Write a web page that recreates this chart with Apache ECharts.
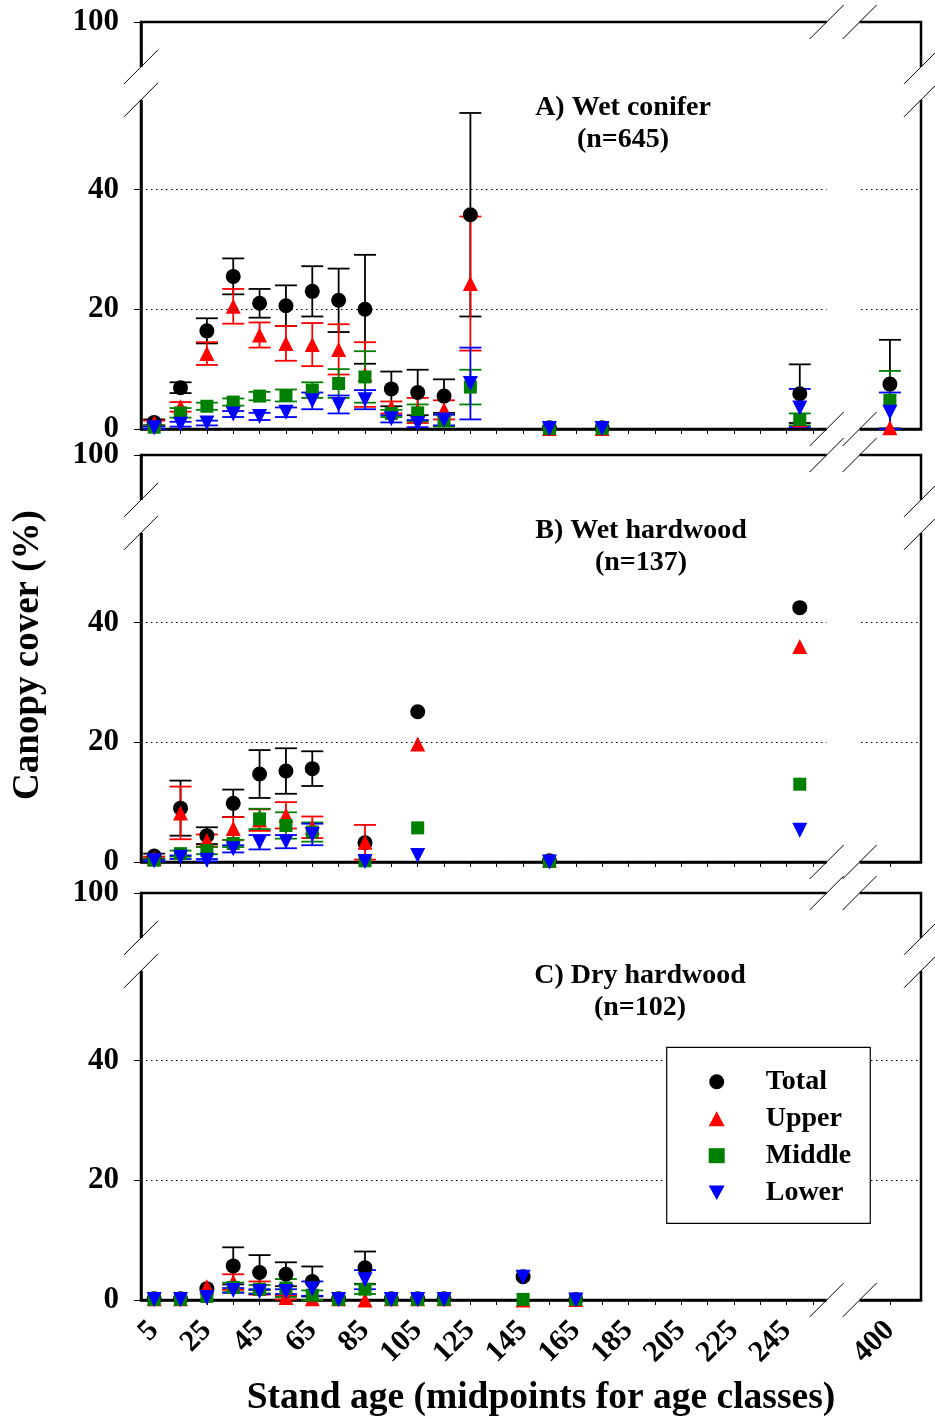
<!DOCTYPE html>
<html><head><meta charset="utf-8">
<script src="https://cdn.jsdelivr.net/npm/echarts@6/dist/echarts.min.js"></script>
<style>html,body{margin:0;padding:0;background:#fff}#c{width:935px;height:1418px}</style>
</head><body><div id="c"></div>
<script>
// ---------- data ----------
const xTickMarks = [5,15,25,35,45,55,65,75,85,95,105,115,125,135,145,155,165,175,185,195,205,215,225,235,245,255,400];
const xTickLabels = [5,25,45,65,85,105,125,145,165,185,205,225,245,400];
const yTickLabels = [0,20,40,100];

const A_ages      = [5,15,25,35,45,55,65,75,85,95,105,115,125,155,175,250,400];
const A_total     = [1.1,6.9,16.4,25.5,21.0,20.6,23.0,21.5,20.0,6.7,6.1,5.5,35.8,0.2,0.2,5.9,7.5];
const A_total_se  = [0.5,0.9,2.1,3.0,2.4,3.4,4.2,5.3,9.1,2.9,3.8,2.8,17.0,0,0,4.9,7.4];
const A_upper     = [1.0,3.7,12.6,20.5,15.7,14.3,14.1,13.3,9.1,3.6,3.1,3.2,24.3,0.1,0.1,1.5,0.2];
const A_upper_se  = [0.4,0.8,1.9,2.9,2.1,2.9,3.6,4.2,5.4,1.0,2.1,1.6,11.2,0,0,0,0];
const A_middle    = [0.3,2.7,3.8,4.5,5.5,5.6,6.5,7.6,8.7,2.6,2.7,1.4,7.0,0.1,0.1,1.6,4.8];
const A_middle_se = [0.3,0.8,0.6,0.6,0.7,1.0,1.3,2.4,4.3,0.6,1.4,1.0,2.9,0,0,1.0,4.9];
const A_lower     = [0.2,0.8,1.0,2.5,2.1,2.8,4.7,4.1,4.9,1.7,0.9,1.5,7.6,0.1,0.1,3.5,2.8];
const A_lower_se  = [0.2,0.4,0.4,0.5,0.6,0.8,1.4,1.5,1.6,0.6,0.6,0.9,6.0,0,0,3.2,3.3];

const B_ages      = [5,15,25,35,45,55,65,85,105,155,250];
const B_total     = [1.0,9.0,4.4,9.8,14.7,15.2,15.6,3.2,25.1,0.2,42.5];
const B_total_se  = [0.4,4.6,1.4,2.3,4.0,3.8,2.9,0,0,0,0];
const B_upper     = [0.6,8.2,3.6,5.6,7.0,7.8,5.8,3.3,19.7,0.3,36.0];
const B_upper_se  = [0.3,4.4,1.0,1.9,1.8,2.2,1.8,2.9,0,0,0];
const B_middle    = [0.3,1.4,1.9,3.1,7.2,6.1,5.0,0.2,5.7,0.1,13.0];
const B_middle_se = [0.2,0.5,0.6,0.6,1.7,2.2,1.6,0,0,0,0];
const B_lower     = [0.2,0.8,0.3,2.2,3.3,3.4,4.6,0.1,1.1,0.0,5.3];
const B_lower_se  = [0.1,0.3,0.2,0.6,1.2,1.1,1.8,0,0,0,0];

const C_ages      = [5,15,25,35,45,55,65,75,85,95,105,115,145,165];
const C_total     = [0.2,0.2,1.9,5.7,4.6,4.3,3.1,0.2,5.4,0.2,0.2,0.2,3.9,0.1];
const C_total_se  = [0,0,0,3.1,2.9,2.0,2.5,0,2.7,0,0,0,0,0];
const C_upper     = [0.2,0.2,2.2,3.0,2.0,0.4,0.2,0.2,0.0,0.2,0.2,0.2,0.0,0.1];
const C_upper_se  = [0,0,0,1.3,1.1,0.3,0,0,0,0,0,0,0,0];
const C_middle    = [0.1,0.1,0.6,2.1,1.8,2.0,0.8,0.1,1.8,0.1,0.1,0.1,0.1,0.1];
const C_middle_se = [0,0,0,0.8,0.7,1.5,0.8,0,0.8,0,0,0,0,0];
const C_lower     = [0.1,0.1,0.4,1.6,1.4,1.4,1.9,0.1,3.4,0.1,0.1,0.1,3.8,0.0];
const C_lower_se  = [0,0,0,0.4,0.4,0.4,1.2,0,1.6,0,0,0,0,0];

const panelTitles = [['A) Wet conifer','(n=645)'],['B) Wet hardwood','(n=137)'],['C) Dry hardwood','(n=102)']];
const layerNames = ['Total','Upper','Middle','Lower'];

// ---------- broken-axis mapping ----------
const X_MAX = 296, X_BREAK_400 = 284.2;          // display position of age 400 after the break
const Y_MAX = 68;                                 // display position of 100 after the break
function xd(a){ return a > 300 ? X_BREAK_400 + (a - 400) : a; }
function yd(v){ return v > 60 ? Y_MAX + (v - 100) : v; }

const FONT = "'Liberation Serif','Times New Roman',serif";
const COLORS = ['#000000','#ff0000','#008000','#0000ff'];
const SYMBOLS = ['circle','triangle','rect','triangle'];
const LEGEND_ICONS = ['circle','triangle','rect','path://M0,0L2,0L1,1.8Z'];
const SIZES = [15,15,13,15];
const ROT = [0,0,0,180];

const panels = [
  {ages:A_ages, vals:[A_total,A_upper,A_middle,A_lower], se:[A_total_se,A_upper_se,A_middle_se,A_lower_se]},
  {ages:B_ages, vals:[B_total,B_upper,B_middle,B_lower], se:[B_total_se,B_upper_se,B_middle_se,B_lower_se]},
  {ages:C_ages, vals:[C_total,C_upper,C_middle,C_lower], se:[C_total_se,C_upper_se,C_middle_se,C_lower_se]}
];
const tops = [22,455,893], H = 407;

function errRender(params, api){
  const x = api.value(0), y = api.value(1), e = api.value(2);
  if (!e) return null;
  const t = api.coord([x, y + e]), b = api.coord([x, Math.max(0, y - e)]);
  const hw = 11, st = {stroke: api.visual('color'), lineWidth: 1.8};
  return {type:'group', children:[
    {type:'line', shape:{x1:t[0],y1:t[1],x2:b[0],y2:b[1]}, style:st},
    {type:'line', shape:{x1:t[0]-hw,y1:t[1],x2:t[0]+hw,y2:t[1]}, style:st},
    {type:'line', shape:{x1:b[0]-hw,y1:b[1],x2:b[0]+hw,y2:b[1]}, style:st}
  ]};
}

const grid = [], xAxis = [], yAxis = [], series = [];
panels.forEach((p, i) => {
  grid.push({left:141, width:780, top:tops[i], height:H, show:true, borderColor:'#000', borderWidth:2.5, backgroundColor:'transparent'});
  xAxis.push({type:'value', gridIndex:i, min:0, max:X_MAX,
    axisLine:{show:true, onZero:false, lineStyle:{color:'#000', width:2.5}},
    axisTick:{show:true, inside:false, length:5, lineStyle:{color:'#000', width:1}, customValues:xTickMarks.map(xd)},
    axisLabel:{show:i===2, rotate:45, margin:26, fontFamily:FONT, fontWeight:'bold', fontSize:30, color:'#000',
      customValues:xTickLabels.map(xd), formatter:v => (Math.abs(v - X_BREAK_400) < 0.01 ? '400' : String(Math.round(v)))},
    splitLine:{show:false}});
  yAxis.push({type:'value', gridIndex:i, min:0, max:Y_MAX,
    axisLine:{show:true, lineStyle:{color:'#000', width:2.5}},
    axisTick:{show:true, inside:false, length:7, lineStyle:{color:'#000', width:1}, customValues:yTickLabels.map(yd)},
    axisLabel:{show:true, margin:22, fontFamily:FONT, fontWeight:'bold', fontSize:31, color:'#000',
      customValues:yTickLabels.map(yd), formatter:v => (v === Y_MAX ? '100' : String(v))},
    splitLine:{show:false}});
  // dotted gridlines at 20 and 40
  series.push({type:'scatter', name:'_grid'+i, xAxisIndex:i, yAxisIndex:i, data:[], silent:true,
    markLine:{silent:true, symbol:'none', label:{show:false}, animation:false,
      lineStyle:{color:'#000', type:[1.5,3.5], width:1.2},
      data:[{yAxis:20},{yAxis:40}]}});
  layerNames.forEach((nm, k) => {
    const pts = p.ages.map((a, j) => [xd(a), p.vals[k][j], p.se[k][j]]);
    series.push({type:'custom', name:'_err'+nm+i, xAxisIndex:i, yAxisIndex:i, renderItem:errRender,
      itemStyle:{color:COLORS[k]}, data:pts, encode:{x:0, y:1}, silent:true, animation:false, clip:false});
    series.push({type:'scatter', name:nm, xAxisIndex:i, yAxisIndex:i, symbol:SYMBOLS[k], symbolSize:SIZES[k],
      symbolRotate:ROT[k], symbolKeepAspect:true, itemStyle:{color:COLORS[k], opacity:1}, data:pts.map(d => [d[0], d[1]]),
      silent:true, animation:false, clip:false});
  });
});

const chart = echarts.init(document.getElementById('c'), null, {renderer:'canvas'});
chart.setOption({
  animation:false,
  backgroundColor:'#fff',
  grid, xAxis, yAxis, series,
  legend:{
    data:layerNames.map((n, k) => ({name:n, icon:LEGEND_ICONS[k], itemStyle:{color:COLORS[k]}})),
    orient:'vertical', left:666.7, top:1047.3, z:100,
    backgroundColor:'#fff', borderColor:'#000', borderWidth:1.2,
    padding:[20.4,19,16.6,42], itemWidth:16, itemHeight:15, itemGap:9,
    selectedMode:false, symbolRotate:0,
    formatter: n => '{t|' + n + '}',
    textStyle:{fontFamily:FONT, fontWeight:'bold', fontSize:28, color:'#000', lineHeight:28,
      rich:{t:{fontFamily:FONT, fontWeight:'bold', fontSize:28, color:'#000', lineHeight:28, padding:[0,0,0,36]}}}
  }
});

// ---------- break marks, titles ----------
const g = [];
const slash = (cx, cy) => ({type:'line', z:60, shape:{x1:cx-17, y1:cy+17, x2:cx+17, y2:cy-17}, style:{stroke:'#000', lineWidth:1}});
panels.forEach((p, i) => {
  const f = {gridIndex:i};
  const [xl, yb] = chart.convertToPixel(f, [0, 0]);
  const [xr, yt] = chart.convertToPixel(f, [X_MAX, Y_MAX]);
  const gx1 = chart.convertToPixel(f, [260.2, 0])[0], gx2 = chart.convertToPixel(f, [272.7, 0])[0];
  const gy1 = chart.convertToPixel(f, [0, 60.5])[1], gy2 = chart.convertToPixel(f, [0, 55])[1];
  g.push({type:'rect', z:50, shape:{x:gx1, y:yt-4, width:gx2-gx1, height:yb-yt+8}, style:{fill:'#fff'}});
  g.push({type:'rect', z:50, shape:{x:xl-5, y:gy1, width:10, height:gy2-gy1}, style:{fill:'#fff'}});
  g.push({type:'rect', z:50, shape:{x:xr-5, y:gy1, width:10, height:gy2-gy1}, style:{fill:'#fff'}});
  [[gx1,yt],[gx2,yt],[gx1,yb],[gx2,yb],[xl,gy1],[xl,gy2],[xr,gy1],[xr,gy2]].forEach(c => g.push(slash(c[0], c[1])));
  const cx = [623, 641, 640][i];
  const ty = [108, 531, 976][i];
  g.push({type:'text', z:60, x:cx, y:ty, style:{text:panelTitles[i][0], font:`bold 28px ${FONT}`, fill:'#000', textAlign:'center', textVerticalAlign:'middle'}});
  g.push({type:'text', z:60, x:cx, y:ty+32, style:{text:panelTitles[i][1], font:`bold 28px ${FONT}`, fill:'#000', textAlign:'center', textVerticalAlign:'middle'}});
});
g.push({type:'text', z:60, x:28, y:655, rotation:Math.PI/2, style:{text:'Canopy cover (%)', font:`bold 37px ${FONT}`, fill:'#000', textAlign:'center', textVerticalAlign:'middle'}});
g.push({type:'text', z:60, x:541, y:1398, style:{text:'Stand age (midpoints for age classes)', font:`bold 37.5px ${FONT}`, fill:'#000', textAlign:'center', textVerticalAlign:'middle'}});
chart.setOption({graphic:{elements:g}});
</script>
</body></html>
